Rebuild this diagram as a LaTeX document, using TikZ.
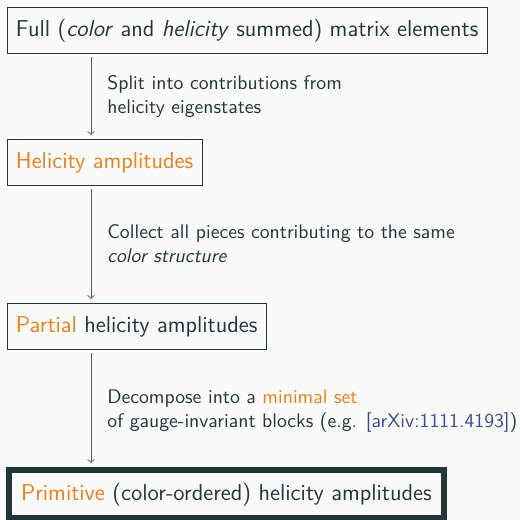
\documentclass[tikz,border=0pt]{standalone}
\usepackage{fontspec}
\renewcommand{\familydefault}{\sfdefault}
\definecolor{mdt}{HTML}{23373B}
\definecolor{morange}{HTML}{EB811B}
\definecolor{mlink}{HTML}{3A4B98}
\definecolor{mbg}{HTML}{FAFAFA}
\begin{document}
\begin{tikzpicture}[x=0.5pt,y=-0.5pt,
  box/.style={draw=mdt, line width=0.45pt, inner xsep=4.5pt, inner ysep=0pt, outer sep=0pt,
    text height=14.5pt, text depth=8.5pt, anchor=north west,
    font=\fontsize{11.48}{13.5}\selectfont, text=mdt},
  finalbox/.style={box, line width=3pt, inner xsep=6pt, text height=15pt, text depth=9pt},
  lbl/.style={anchor=base west, align=left, inner sep=0pt,
    font=\fontsize{9.85}{11.8}\selectfont, text=mdt},
  arr/.style={->, draw=mdt!80!mbg, line width=0.45pt, shorten <=2pt, shorten >=2pt}]
\fill[mbg] (0,0) rectangle (520,520);
\useasboundingbox (0,0) rectangle (520,520);
\node[box] (b1) at (7,7) {Full (\textit{color} and \textit{helicity} summed) matrix elements};
\node[box] (b2) at (7,139) {\textcolor{morange}{Helicity amplitudes}};
\node[box] (b3) at (7,303) {\textcolor{morange}{Partial} helicity amplitudes};
\node[finalbox] (b4) at (9,470) {\textcolor{morange}{Primitive} (color-ordered) helicity amplitudes};
\node[lbl] (l1) at (107,113) {Split into contributions from\\helicity eigenstates};
\node[lbl] (l2) at (107,262) {Collect all pieces contributing to the same\\\textit{color structure}};
\node[lbl] (l3) at (107,427) {Decompose into a \textcolor{morange}{minimal set}\\of gauge-invariant blocks (e.g. \textcolor{mlink}{[arXiv:1111.4193]})};
\draw[arr] ([xshift=42pt]b1.south west) -- ([xshift=42pt]b2.north west);
\draw[arr] ([xshift=42pt]b2.south west) -- ([xshift=42pt]b3.north west);
\draw[arr, shorten >=3.5pt] ([xshift=42pt]b3.south west) -- ([xshift=41pt]b4.north west);
\end{tikzpicture}
\end{document}
